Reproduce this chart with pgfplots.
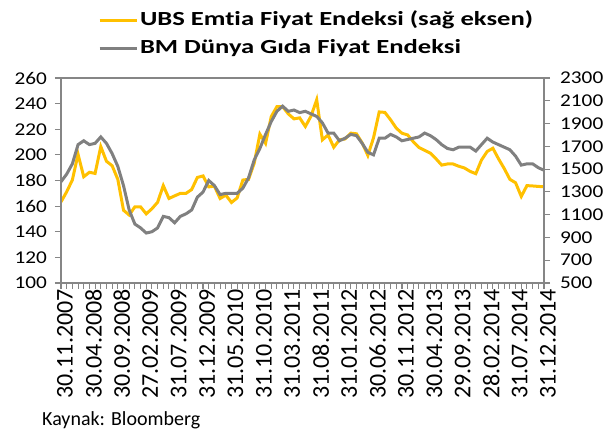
\documentclass[border=0pt]{standalone}
\usepackage{fontspec}
\setmainfont{Carlito}[Ligatures=NoCommon]
\newfontfamily\legfont[FakeStretch=1.33, Ligatures=NoCommon, RawFeature=-calt]{Carlito}
\newfontfamily\yfont[FakeStretch=1.18]{Carlito}
\usepackage{pgfplots}
\usepackage{pgfplotstable}
\pgfplotsset{compat=1.18}
\definecolor{ubs}{HTML}{FFC000}
\definecolor{bm}{HTML}{808080}
\definecolor{axgray}{HTML}{868686}

\pgfplotstableread{
i ubs
0 1212
1 1301
2 1405
3 1630
4 1433
5 1472
6 1462
7 1698
8 1569
9 1530
10 1410
11 1139
12 1097
13 1169
14 1169
15 1107
16 1152
17 1209
18 1355
19 1242
20 1265
21 1287
22 1287
23 1321
24 1427
25 1440
26 1344
27 1350
28 1242
29 1272
30 1207
31 1247
32 1404
33 1410
34 1551
35 1807
36 1726
37 1961
38 2049
39 2049
40 1985
41 1941
42 1950
43 1874
44 1965
45 2109
46 1757
47 1800
48 1692
49 1757
50 1765
51 1816
52 1810
53 1730
54 1620
55 1775
56 2002
57 1998
58 1933
59 1860
60 1815
61 1800
62 1740
63 1690
64 1665
65 1640
66 1590
67 1535
68 1545
69 1545
70 1525
71 1510
72 1480
73 1460
74 1580
75 1655
76 1683
77 1590
78 1505
79 1410
80 1380
81 1260
82 1355
83 1352
84 1348
85 1345
}\ubsdata

\pgfplotstableread{
i bm
0 179
1 185
2 193
3 208
4 211
5 208
6 209
7 214
8 209
9 201
10 191
11 176
12 157
13 146
14 143
15 139
16 140
17 143
18 152
19 151
20 147
21 152
22 154
23 157
24 167
25 171
26 180
27 176
28 169
29 170
30 170
31 170
32 174
33 182
34 196
35 205
36 216
37 226
38 234
39 238
40 234
41 235
42 233
43 234
44 232
45 230
46 225
47 217
48 217
49 211
50 213
51 216
52 215
53 209
54 202
55 200
56 213
57 213
58 216
59 214
60 211
61 212
62 213
63 214
64 217
65 215
66 212
67 208
68 205
69 204
70 206
71 206
72 206
73 203
74 208
75 213
76 210
77 208
78 206
79 204
80 199
81 192
82 193
83 193
84 190
85 188
}\bmdata

\begin{document}
\begin{tikzpicture}
\useasboundingbox (0,0) rectangle (607bp,432bp);
% right axis: UBS
\begin{axis}[
  at={(61bp,149bp)}, anchor=south west,
  width=483bp, height=205bp, scale only axis,
  xmin=0, xmax=85, ymin=500, ymax=2300,
  hide x axis, axis y line*=right,
  ytick={500,700,...,2300},
  tick align=outside,
  major tick length=6bp,
  y axis line style={axgray, line width=1.5bp, -},
  ytick style={axgray, line width=1.2bp},
  yticklabel style={font=\yfont\fontsize{18bp}{20bp}\selectfont, inner sep=0pt, xshift=10bp},
  /pgf/number format/assume math mode=true,
  /pgf/number format/1000 sep={},
  legend style={at={(0.07,1.35)}, anchor=north west, draw=none, fill=none,
    font=\legfont\bfseries\fontsize{20bp}{24bp}\selectfont,
    nodes={inner sep=2bp, text height=15bp, text depth=5bp},
    row sep=4.5bp},
  legend cell align=left,
  legend image code/.code={\draw[#1] (0bp,0bp) -- (37bp,0bp);},
]
\addplot[ubs, line width=3bp] table[x=i, y=ubs] {\ubsdata};
\addlegendentry{UBS Emtia Fiyat Endeksi (sağ eksen)}
\addlegendimage{bm, line width=3bp}
\addlegendentry{BM Dünya Gıda Fiyat Endeksi}
\end{axis}
% left axis: BM
\begin{axis}[
  at={(61bp,149bp)}, anchor=south west,
  width=483bp, height=205bp, scale only axis,
  xmin=0, xmax=85, ymin=100, ymax=260,
  ytick={100,120,...,260},
  ytick pos=left, xtick pos=bottom,
  xtick={0,5,...,85},
  minor xtick={0,1,...,85},
  xticklabels={30.11.2007,30.04.2008,30.09.2008,27.02.2009,31.07.2009,31.12.2009,31.05.2010,31.10.2010,31.03.2011,31.08.2011,31.01.2012,30.06.2012,30.11.2012,30.04.2013,29.09.2013,28.02.2014,31.07.2014,31.12.2014},
  tick align=outside,
  major tick length=6bp, minor tick length=6bp,
  axis line style={axgray, line width=1.5bp},
  tick style={axgray, line width=1.2bp},
  minor tick style={axgray, line width=1bp},
  yticklabel style={font=\yfont\fontsize{18bp}{20bp}\selectfont, inner sep=0pt, xshift=-8bp},
  xticklabel style={font=\fontsize{24bp}{26bp}\selectfont, rotate=90, anchor=east, inner sep=0pt, yshift=-4bp},
  /pgf/number format/assume math mode=true,
  /pgf/number format/1000 sep={},
]
\addplot[bm, line width=3bp] table[x=i, y=bm] {\bmdata};
\end{axis}
\node[anchor=base west, inner sep=0pt, font=\fontsize{20bp}{24bp}\selectfont] at (42bp,7bp) {Kaynak: Bloomberg};
\end{tikzpicture}
\end{document}
